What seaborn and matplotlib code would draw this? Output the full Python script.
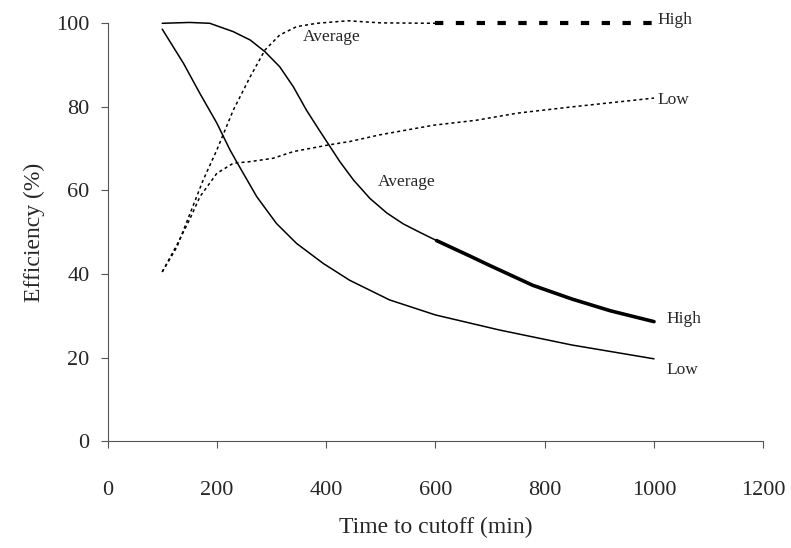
import numpy as np
import pandas as pd
import matplotlib
matplotlib.use("Agg")
import matplotlib.pyplot as plt
import seaborn as sns

# Efficiency vs time to cutoff
solid_high_x = [100, 150, 187, 230, 261, 288, 315, 340, 364, 389, 407, 425, 450, 480,
                511, 541, 571, 602, 663, 700, 778, 850, 920, 1000]
solid_high_y = [100, 100.2, 100, 98.0, 96.0, 93.2, 89.6, 84.8, 79.2, 74.1, 70.5, 66.9,
                62.5, 58.1, 54.6, 52.0, 50.0, 48.0, 44.3, 42.0, 37.3, 34.0, 31.2, 28.6]

solid_low_x = [100, 139, 169, 200, 224, 236, 273, 309, 346, 395, 443, 516, 600, 717,
               850, 1000]
solid_low_y = [98.6, 90.4, 83.2, 76.1, 69.7, 66.9, 58.5, 52.1, 47.3, 42.5, 38.5, 33.8,
               30.2, 26.6, 23.0, 19.7]

dotted_high_x = [100, 127, 151, 175, 200, 230, 261, 288, 315, 346, 383, 440, 500, 600,
                 700, 800, 900, 1000]
dotted_high_y = [40.5, 46.5, 54.5, 62.5, 69.7, 79.2, 87.2, 93.6, 97.2, 99.2, 100, 100.6,
                 100.1, 100, 100, 100, 100, 100]

dotted_low_x = [100, 127, 150, 169, 200, 230, 261, 303, 340, 405, 443, 498, 596, 675,
                750, 850, 1000]
dotted_low_y = [40.5, 47.0, 53.0, 58.5, 64.1, 66.5, 66.9, 67.7, 69.3, 70.9, 71.7, 73.3,
                75.6, 76.8, 78.5, 80.0, 82.1]

labels = ["High", "Low", "Average", "Average", "High", "Low"]
label_x = [1006, 1006, 357, 494, 1023, 1023]
label_y = [100.8, 81.7, 96.8, 62.0, 29.2, 17.0]

sns.set_style("ticks")
plt.rcParams['font.family'] = ['Liberation Serif', 'DejaVu Serif']

fig = plt.figure(figsize=(7.91, 5.48), dpi=100)
ax = fig.add_axes([0.136, 0.195, 0.829, 0.7625])

sh = pd.DataFrame({"x": solid_high_x, "y": solid_high_y})
sl = pd.DataFrame({"x": solid_low_x, "y": solid_low_y})
dh = pd.DataFrame({"x": dotted_high_x, "y": dotted_high_y})
dl = pd.DataFrame({"x": dotted_low_x, "y": dotted_low_y})

dots = (0, (2, 2))

# thin parts
sns.lineplot(data=sh[sh.x <= 602], x="x", y="y", ax=ax, color="black", lw=1.1, clip_on=False)
sns.lineplot(data=sl, x="x", y="y", ax=ax, color="black", lw=1.1, clip_on=False)
sns.lineplot(data=dh[dh.x <= 600], x="x", y="y", ax=ax, color="black", lw=1.1,
             linestyle=dots, clip_on=False)
sns.lineplot(data=dl, x="x", y="y", ax=ax, color="black", lw=1.1,
             linestyle=dots, clip_on=False)

# heavier segments from 600 min on
sns.lineplot(data=sh[sh.x >= 602], x="x", y="y", ax=ax, color="black", lw=2.6, clip_on=False)
sns.lineplot(data=dh[dh.x >= 600], x="x", y="y", ax=ax, color="black", lw=3,
             linestyle=(0, (2, 3)), clip_on=False)

for t, lx, ly in zip(labels, label_x, label_y):
    ax.text(lx, ly, t, fontsize=12.5, ha="left", va="center")

ax.set_xlim(0, 1200)
ax.set_ylim(0, 100)
ax.set_xticks(range(0, 1201, 200))
ax.set_yticks(range(0, 101, 20))
ax.tick_params(labelsize=16, length=5, width=0.8, color="#555555", pad=8)
ax.tick_params(axis="x", pad=24)
for s in ["left", "bottom"]:
    ax.spines[s].set_color("#555555")
    ax.spines[s].set_linewidth(0.8)
sns.despine(ax=ax)

ax.set_xlabel("Time to cutoff (min)", fontsize=17, labelpad=12)
ax.set_ylabel("Efficiency (%)", fontsize=17, labelpad=8)

fig.savefig("out.png", dpi=100)
